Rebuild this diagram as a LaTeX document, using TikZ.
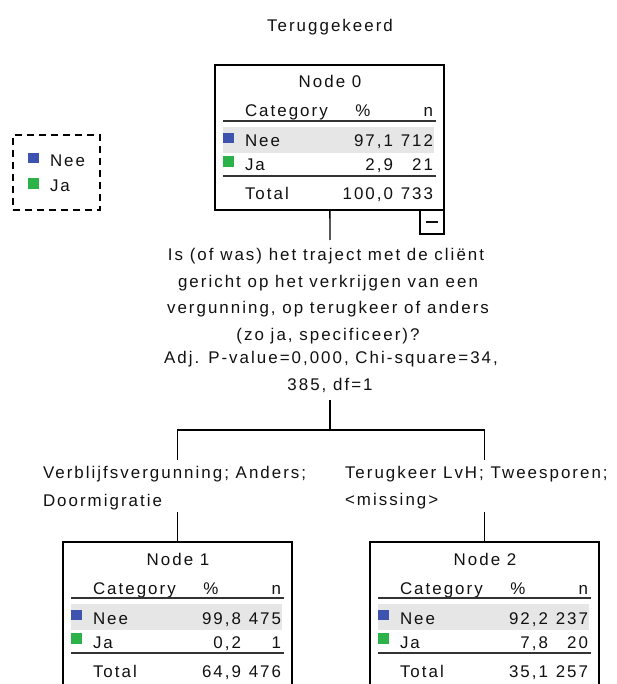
\documentclass[tikz,border=0pt]{standalone}
\usepackage{fontspec}
\setmainfont{Liberation Sans}[LetterSpace=12]
\definecolor{txt}{HTML}{111111}
\definecolor{catA}{HTML}{3E52B0}
\definecolor{catB}{HTML}{2BB34A}
\definecolor{rowbg}{HTML}{E6E6E6}
\definecolor{rulec}{HTML}{333333}
\newcommand\fs{\fontsize{16.9}{19}\selectfont}
% #1 name, #2 left, #3 top, #4 number, #5 p1, #6 n1, #7 p2, #8 n2, #9 total pct
\newcommand\treetable[9]{%
  \node[box] (#1) at (#2+114.5,#3+72.5) {};
  \node[anchor=base] (#1-title) at (#2+115,#3+23) {Node #4};
  \node[anchor=base west] (#1-hc) at (#2+30,#3+52) {Category};
  \node[anchor=base] (#1-hp) at (#2+148,#3+52) {\%};
  \node[anchor=base east] (#1-hn) at (#2+218,#3+52) {n};
  \draw[rulel] (#2+8,#3+56) -- (#2+221,#3+56);
  \fill[rowbg] (#2+8,#3+62) rectangle (#2+219,#3+88);
  \fill[catA] (#2+8,#3+68) rectangle (#2+19,#3+78);
  \node[anchor=base west] (#1-c1) at (#2+30,#3+82) {Nee};
  \node[anchor=base east] (#1-p1) at (#2+178,#3+82) {#5};
  \node[anchor=base east] (#1-n1) at (#2+218,#3+82) {#6};
  \fill[catB] (#2+8,#3+91) rectangle (#2+19,#3+102);
  \node[anchor=base west] (#1-c2) at (#2+30,#3+106) {Ja};
  \node[anchor=base east] (#1-p2) at (#2+178,#3+106) {#7};
  \node[anchor=base east] (#1-n2) at (#2+218,#3+106) {#8};
  \draw[rulel] (#2+8,#3+111) -- (#2+221,#3+111);
  \node[anchor=base west] (#1-ct) at (#2+30,#3+135) {Total};
  \node[anchor=base east] (#1-pt) at (#2+178,#3+135) {#9};
  \node[anchor=base east] (#1-nt) at (#2+218,#3+135) {\the\numexpr#6+#8\relax};
}
\begin{document}
\begin{tikzpicture}[x=1pt,y=-1pt,
  every node/.style={inner sep=0pt, outer sep=0pt, font=\fs, text=txt},
  box/.style={draw=black, line width=1.3pt, minimum width=229pt, minimum height=145pt},
  rulel/.style={draw=rulec, line width=1.4pt},
  conn/.style={draw=black, line width=1.3pt},
  togbox/.style={draw=black, line width=1.3pt, minimum width=24pt, minimum height=24pt},
  legendbox/.style={draw=black, line width=1.3pt, dash pattern=on 7pt off 5pt, minimum width=87pt, minimum height=75pt}]
\fill[white] (0,0) rectangle (616,684);
\useasboundingbox (0,0) rectangle (616,684);
\clip (0,0) rectangle (616,684);

% title
\node[anchor=base] (title) at (330,32) {Teruggekeerd};

% legend
\node[legendbox] (legend) at (56.5,172.5) {};
\fill[catA] (28,153) rectangle (39,163);
\node[anchor=base west] (leg-a) at (50,167) {Nee};
\fill[catB] (28,178) rectangle (39,189);
\node[anchor=base west] (leg-b) at (50,192) {Ja};

% nodes
\treetable{n0}{215}{65}{0}{97,1}{712}{2,9}{21}{100,0}
\treetable{n1}{63}{542}{1}{99,8}{475}{0,2}{1}{64,9}
\treetable{n2}{370}{542}{2}{92,2}{237}{7,8}{20}{35,1}

% collapse toggle
\node[togbox] (n0-tog) at (432,222) {\rule{12pt}{1.4pt}};

% split text
\node[anchor=base] (q1) at (326,260) {Is (of was) het traject met de cliënt};
\node[anchor=base] (q2) at (328,287) {gericht op het verkrijgen van een};
\node[anchor=base] (q3) at (328,313) {vergunning, op terugkeer of anders};
\node[anchor=base] (q4) at (328,340) {(zo ja, specificeer)?};
\node[anchor=base] (s1) at (331,363) {Adj. P-value=0,000, Chi-square=34,};
\node[anchor=base] (s2) at (330,390) {385, df=1};

% connectors
\coordinate (q-top) at (330,240);
\coordinate (s-bot) at (330,400);
\coordinate (split) at (330,430);
\coordinate (b1-top) at (177.5,460);
\coordinate (b2-top) at (484.5,460);
\coordinate (b1-bot) at (177.5,512);
\coordinate (b2-bot) at (484.5,512);
\draw[conn] (n0) -- (q-top);
\draw[conn] (s-bot) -- (split);
\draw[conn] (b1-top) -- (b1-top |- split) -- (b2-top |- split) -- (b2-top);
\draw[conn] (b1-bot) -- (n1);
\draw[conn] (b2-bot) -- (n2);

% branch labels
\node[anchor=base west] (l1a) at (43,478) {Verblijfsvergunning; Anders;};
\node[anchor=base west] (l1b) at (43,506) {Doormigratie};
\node[anchor=base west] (l2a) at (345,478) {Terugkeer LvH; Tweesporen;};
\node[anchor=base west] (l2b) at (345,505) {<missing>};
\end{tikzpicture}
\end{document}
